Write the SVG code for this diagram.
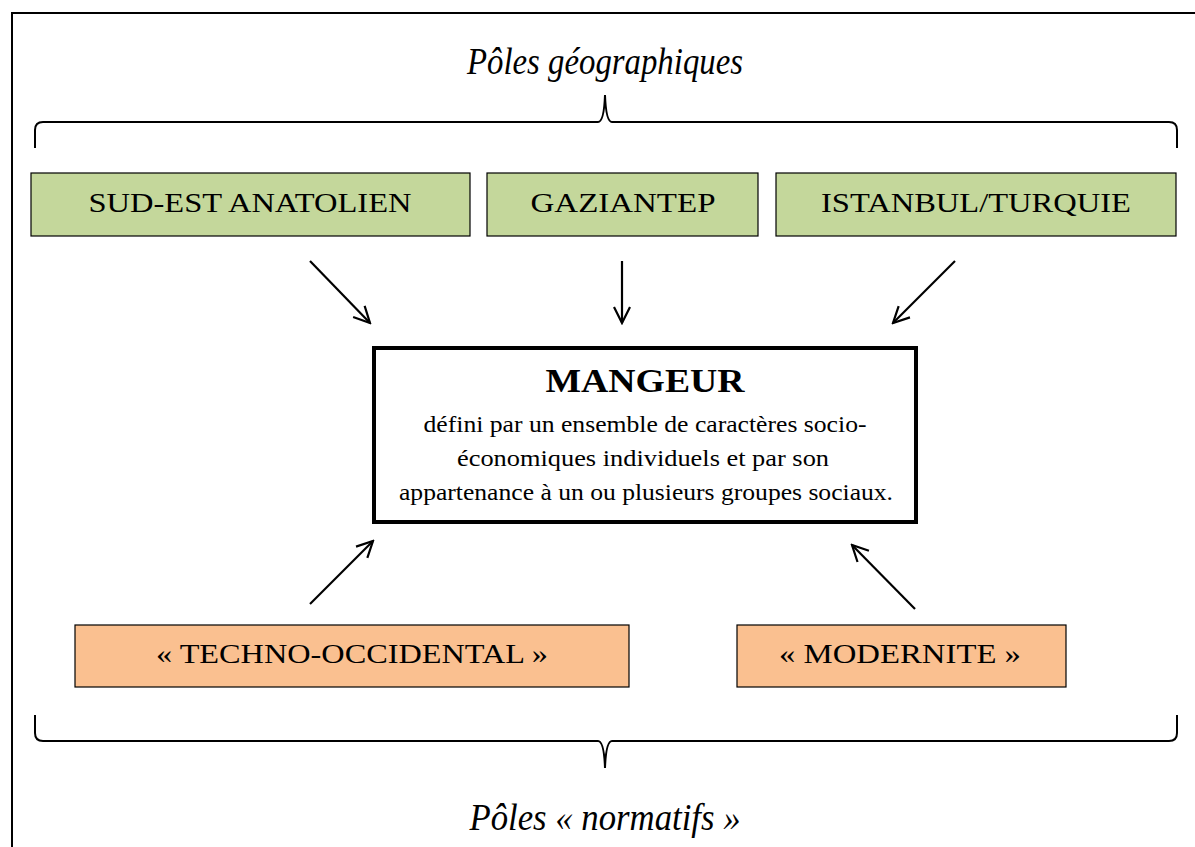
<svg xmlns="http://www.w3.org/2000/svg" width="1195" height="847" viewBox="0 0 1195 847">
<style>
.frame{fill:none;stroke:#000;stroke-width:2}
.brace{fill:none;stroke:#000;stroke-width:2}
.g{fill:#c4d79b;stroke:#000;stroke-width:1.2}
.o{fill:#fac090;stroke:#000;stroke-width:1.2}
.main{fill:#fff;stroke:#000;stroke-width:4}
.lbl{font-family:"Liberation Serif",serif;font-size:27px;text-anchor:middle;fill:#000}
.title{font-family:"Liberation Serif",serif;font-style:italic;font-size:38px;text-anchor:middle;fill:#000}
.head{font-family:"Liberation Serif",serif;font-weight:bold;font-size:33px;text-anchor:middle}
.body{font-family:"Liberation Serif",serif;font-size:23px;text-anchor:middle}
.arr{stroke:#000;stroke-width:2.2;fill:none;marker-end:url(#ah)}
</style>
<defs>
<marker id="ah" viewBox="0 0 20 20" refX="18" refY="10" markerWidth="20" markerHeight="20" markerUnits="userSpaceOnUse" orient="auto">
<path d="M2,2 L18,10 L2,18" fill="none" stroke="#000" stroke-width="2.2"/>
</marker>
</defs>
<rect class="frame" x="12" y="13" width="1200" height="850"/>
<g id="title-top"><text class="title" x="605" y="74" textLength="276" lengthAdjust="spacingAndGlyphs">Pôles géographiques</text></g>
<g id="brace-top"><path class="brace" d="M35,148 L35,130 Q35,122 43,122 L598,122 Q604,122 605,95 Q606,122 612,122 L1169,122 Q1177,122 1177,130 L1177,148"/></g>
<g id="n-sudest"><rect class="g" x="31" y="173" width="439" height="63"/><text class="lbl" x="250" y="212" textLength="323" lengthAdjust="spacingAndGlyphs">SUD-EST ANATOLIEN</text></g>
<g id="n-gaziantep"><rect class="g" x="487" y="173" width="271" height="63"/><text class="lbl" x="623" y="212" textLength="185" lengthAdjust="spacingAndGlyphs">GAZIANTEP</text></g>
<g id="n-istanbul"><rect class="g" x="776" y="173" width="400" height="63"/><text class="lbl" x="976" y="212" textLength="310" lengthAdjust="spacingAndGlyphs">ISTANBUL/TURQUIE</text></g>
<g id="n-mangeur"><rect class="main" x="374" y="348" width="542" height="174"/>
<text class="head" x="645" y="392" textLength="199" lengthAdjust="spacingAndGlyphs">MANGEUR</text>
<text class="body" x="645" y="432" textLength="443" lengthAdjust="spacingAndGlyphs">défini par un ensemble de caractères socio-</text>
<text class="body" x="643" y="466" textLength="372" lengthAdjust="spacingAndGlyphs">économiques individuels et par son</text>
<text class="body" x="646" y="500" textLength="494" lengthAdjust="spacingAndGlyphs">appartenance à un ou plusieurs groupes sociaux.</text>
</g>
<g id="n-techno"><rect class="o" x="75" y="625" width="554" height="62"/><text class="lbl" x="352" y="663" textLength="392" lengthAdjust="spacingAndGlyphs">« TECHNO-OCCIDENTAL »</text></g>
<g id="n-modernite"><rect class="o" x="737" y="625" width="329" height="62"/><text class="lbl" x="900" y="663" textLength="242" lengthAdjust="spacingAndGlyphs">« MODERNITE »</text></g>
<g id="brace-bottom"><path class="brace" d="M35,715 L35,733 Q35,741 43,741 L598,741 Q604,741 605,768 Q606,741 612,741 L1169,741 Q1177,741 1177,733 L1177,715"/></g>
<g id="title-bottom"><text class="title" x="605" y="830" textLength="271" lengthAdjust="spacingAndGlyphs">Pôles « normatifs »</text></g>
<g id="connectors">
<line class="arr" x1="310" y1="261" x2="370" y2="323"/>
<line class="arr" x1="622" y1="261" x2="622" y2="323"/>
<line class="arr" x1="955" y1="261" x2="893" y2="323"/>
<line class="arr" x1="310" y1="604" x2="373" y2="541"/>
<line class="arr" x1="915" y1="609" x2="852" y2="545"/>
</g>
</svg>
